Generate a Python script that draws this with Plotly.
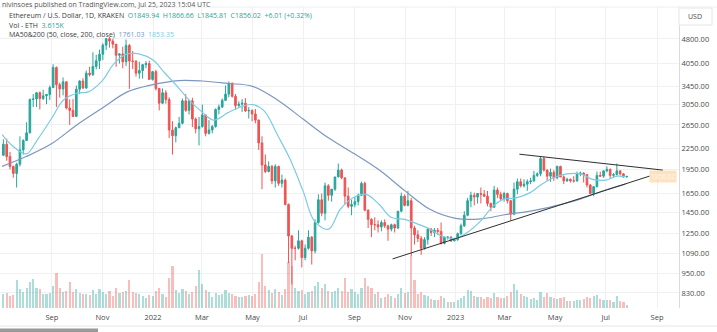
import math
import pandas as pd
import plotly.graph_objects as go

# ETH/USD (Kraken) candles, 4-day periods ending 2023-07-25
opens = [
    2150, 2320, 2130, 1990, 1895, 2020, 2230, 2380,
    2510, 3160, 3170, 3310, 3180, 3240, 3270,
    3430, 3940, 3500, 3400, 3570, 2980, 2930, 2810,
    3390, 3590, 3420, 3790, 3750, 3970, 4130, 4320,
    4600, 4810, 4730, 4630, 4290, 4330, 4100,
    4590, 4120, 4110, 3790, 3860, 4020, 4050, 3630,
    3830, 3410, 3080, 3310, 3160, 2560, 2460, 2600,
    2680, 3130, 2930, 3130, 2760, 2580, 2620,
    2840, 2500, 2560, 2620, 2950, 3000, 3140,
    3280, 3520, 3230, 3030, 3060, 3080, 2920, 2930,
    2860, 2740, 2340, 2010, 1920, 1990, 1800, 1990,
    1770, 1810, 1530, 1230, 1130, 1130, 1190,
    1060, 1130, 1220, 1110, 1350, 1580, 1440, 1740,
    1630, 1700, 1850, 1940, 1840, 1620, 1510, 1530,
    1560, 1630, 1770, 1470, 1380, 1330, 1330,
    1310, 1350, 1320, 1290, 1330, 1300, 1460, 1620,
    1520, 1570, 1300, 1240, 1210, 1130, 1200,
    1290, 1260, 1280, 1270, 1170, 1220, 1220, 1190,
    1200, 1250, 1320, 1420, 1570, 1630, 1610, 1650,
    1640, 1620, 1540, 1500, 1690, 1640, 1590,
    1650, 1570, 1430, 1700, 1790, 1740, 1760, 1790,
    1800, 1870, 1890, 2100, 1940, 1860, 1910,
    1840, 1990, 1850, 1800, 1820, 1800, 1800, 1890,
    1900, 1880, 1750, 1650, 1730, 1870, 1860,
    1930, 1950, 1870, 1880, 1930, 1890, 1849.94,
]
highs = [
    2400, 2410, 2200, 2000, 2040, 2450, 2400, 2700,
    3180, 3280, 3330, 3340, 3380, 3280, 3480,
    4030, 3970, 3550, 3680, 3580, 3160, 3170, 3480,
    3610, 3660, 3860, 3960, 4380, 4300, 4460, 4660,
    4830, 4870, 4800, 4630, 4350, 4550, 4780,
    4640, 4420, 4150, 4100, 4040, 4120, 4130, 3850,
    3880, 3420, 3410, 3370, 3210, 2720, 2620, 2800,
    3180, 3280, 3150, 3200, 2790, 2800, 3050,
    2850, 2740, 2650, 2970, 3050, 3180, 3480,
    3580, 3560, 3280, 3120, 3170, 3190, 3000, 2950,
    2960, 2750, 2450, 2160, 2060, 2010, 2020, 2000,
    1880, 1830, 1540, 1240, 1150, 1280, 1200,
    1160, 1280, 1230, 1380, 1640, 1650, 1780, 1760,
    1700, 1850, 2030, 1960, 1840, 1720, 1580, 1610,
    1650, 1790, 1790, 1480, 1390, 1400, 1370,
    1370, 1380, 1330, 1340, 1340, 1460, 1660, 1640,
    1680, 1600, 1320, 1280, 1230, 1220, 1300,
    1300, 1300, 1300, 1350, 1220, 1230, 1230, 1210,
    1260, 1340, 1460, 1600, 1670, 1660, 1650, 1720,
    1690, 1680, 1550, 1740, 1720, 1670, 1670,
    1660, 1580, 1780, 1830, 1830, 1820, 1820, 1840,
    1930, 1910, 2140, 2130, 1950, 1960, 1940,
    2000, 2000, 1870, 1840, 1830, 1860, 1920, 1920,
    1910, 1890, 1760, 1740, 1920, 1920, 1930,
    1990, 1960, 1900, 2030, 1930, 1900, 1866.66,
]
lows = [
    2140, 2070, 1950, 1840, 1720, 1990, 2160, 2370,
    2500, 3000, 3000, 2950, 3150, 3060, 3150,
    3420, 3000, 3200, 3250, 2950, 2650, 2800, 2800,
    3280, 3400, 3400, 3700, 3720, 3890, 3900, 4150,
    4450, 4520, 4500, 3960, 4050, 3920, 3980,
    3400, 3900, 3700, 3650, 3650, 3920, 3620, 3600,
    3360, 2930, 3060, 3070, 2420, 2160, 2350, 2590,
    2660, 2900, 2850, 2610, 2500, 2300, 2600,
    2450, 2480, 2500, 2600, 2850, 2980, 3140,
    3210, 3200, 2950, 2980, 2900, 2900, 2770, 2720,
    2680, 2230, 1700, 1900, 1910, 1760, 1720, 1740,
    1720, 1520, 1020, 880, 1040, 1120, 990,
    1040, 1120, 1010, 1090, 1340, 1410, 1370, 1570,
    1560, 1680, 1850, 1820, 1530, 1490, 1420, 1500,
    1520, 1620, 1460, 1300, 1220, 1280, 1260,
    1270, 1300, 1190, 1270, 1260, 1290, 1450, 1510,
    1510, 1070, 1160, 1180, 1080, 1120, 1160,
    1230, 1220, 1240, 1160, 1160, 1200, 1180, 1185,
    1190, 1240, 1310, 1410, 1500, 1520, 1540, 1540,
    1610, 1510, 1460, 1500, 1600, 1570, 1560,
    1540, 1370, 1420, 1640, 1720, 1720, 1680, 1760,
    1790, 1850, 1860, 1920, 1800, 1790, 1800,
    1820, 1850, 1760, 1790, 1780, 1780, 1790, 1860,
    1780, 1720, 1640, 1620, 1720, 1860, 1840,
    1910, 1830, 1850, 1870, 1870, 1840, 1845.81,
]
closes = [
    2320, 2130, 1990, 1895, 2020, 2230, 2380, 2510,
    3160, 3170, 3310, 3180, 3240, 3270, 3430,
    3940, 3500, 3400, 3570, 2980, 2930, 2810, 3390,
    3590, 3420, 3790, 3750, 3970, 4130, 4320, 4600,
    4810, 4730, 4630, 4290, 4330, 4100, 4590,
    4120, 4110, 3790, 3860, 4020, 4050, 3630, 3830,
    3410, 3080, 3310, 3160, 2560, 2460, 2600, 2680,
    3130, 2930, 3130, 2760, 2580, 2620, 2840,
    2500, 2560, 2620, 2950, 3000, 3140, 3280,
    3520, 3230, 3030, 3060, 3080, 2920, 2930, 2860,
    2740, 2340, 2010, 1920, 1990, 1800, 1990, 1770,
    1810, 1530, 1230, 1130, 1130, 1190, 1060,
    1130, 1220, 1110, 1350, 1580, 1440, 1740, 1630,
    1700, 1850, 1940, 1840, 1620, 1510, 1530, 1560,
    1630, 1770, 1470, 1380, 1330, 1330, 1310,
    1350, 1320, 1290, 1330, 1300, 1460, 1620, 1520,
    1570, 1300, 1240, 1210, 1130, 1200, 1290,
    1260, 1280, 1270, 1170, 1220, 1220, 1190, 1200,
    1250, 1320, 1420, 1570, 1630, 1610, 1650, 1640,
    1620, 1540, 1500, 1690, 1640, 1590, 1650,
    1570, 1430, 1700, 1790, 1740, 1760, 1790, 1800,
    1870, 1890, 2100, 1940, 1860, 1910, 1840,
    1990, 1850, 1800, 1820, 1800, 1800, 1890, 1900,
    1880, 1750, 1650, 1730, 1870, 1860, 1930,
    1950, 1870, 1880, 1930, 1890, 1850, 1856.02,
]
# average daily volume per period, thousand ETH
volumes = [
    70, 75, 60, 65, 140, 95, 80, 100,
    130, 145, 100, 95, 70, 70, 75,
    110, 175, 100, 80, 85, 130, 80, 95,
    75, 70, 70, 65, 90, 70, 95, 80,
    70, 85, 60, 100, 75, 80, 85,
    140, 80, 75, 70, 60, 50, 65, 60,
    85, 100, 70, 55, 150, 210, 90, 75,
    95, 85, 70, 80, 110, 190, 120,
    90, 80, 55, 75, 65, 70, 90,
    75, 70, 60, 55, 55, 60, 65, 60,
    70, 130, 270, 110, 90, 75, 95, 80,
    65, 95, 230, 210, 100, 85, 90,
    70, 80, 85, 110, 130, 100, 120, 85,
    80, 85, 100, 85, 150, 80, 95, 80,
    70, 100, 150, 110, 100, 70, 80,
    50, 55, 70, 60, 50, 70, 100, 75,
    80, 260, 140, 70, 80, 65, 60,
    45, 40, 40, 60, 50, 30, 30, 30,
    40, 50, 60, 90, 85, 60, 55, 55,
    45, 55, 50, 75, 55, 50, 50,
    60, 80, 120, 90, 70, 60, 55, 45,
    50, 40, 80, 55, 75, 55, 50,
    45, 50, 55, 35, 35, 35, 40, 40,
    45, 55, 50, 60, 65, 45, 40,
    40, 40, 30, 60, 35, 30, 15,
]

# moving averages of the daily close
ma50_dates = [
    "2021-07-03", "2021-07-15", "2021-08-01", "2021-08-15", "2021-09-01", "2021-09-15",
    "2021-10-01", "2021-10-15", "2021-11-01", "2021-11-15", "2021-12-01", "2021-12-15",
    "2022-01-01", "2022-01-15", "2022-02-01", "2022-02-15", "2022-03-01", "2022-03-15",
    "2022-04-01", "2022-04-15", "2022-05-01", "2022-05-15", "2022-06-01", "2022-06-15",
    "2022-07-01", "2022-07-15", "2022-08-01", "2022-08-15", "2022-09-01", "2022-09-15",
    "2022-10-01", "2022-10-15", "2022-11-01", "2022-11-15", "2022-12-01", "2022-12-15",
    "2023-01-01", "2023-01-15", "2023-02-01", "2023-02-15", "2023-03-01", "2023-03-15",
    "2023-04-01", "2023-04-15", "2023-05-01", "2023-05-15", "2023-06-01", "2023-06-15",
    "2023-07-01", "2023-07-15", "2023-07-25",
]
ma50_values = [
    2480, 2300, 2170, 2400, 2780, 3150,
    3300, 3330, 3600, 4050, 4330, 4330,
    4150, 3800, 3420, 3120, 2900, 2740,
    2880, 2990, 3050, 2920, 2450, 2100,
    1680, 1360, 1290, 1480, 1610, 1640,
    1530, 1400, 1380, 1340, 1290, 1230,
    1210, 1260, 1370, 1510, 1590, 1600,
    1660, 1760, 1850, 1890, 1890, 1820,
    1810, 1860, 1853.35,
]
ma200_dates = [
    "2021-07-03", "2021-08-01", "2021-09-01", "2021-10-01", "2021-11-01", "2021-12-01",
    "2022-01-01", "2022-02-01", "2022-03-01", "2022-04-01", "2022-05-01", "2022-06-01",
    "2022-07-01", "2022-08-01", "2022-09-01", "2022-10-01", "2022-11-01", "2022-12-01",
    "2023-01-01", "2023-02-01", "2023-03-01", "2023-04-01", "2023-05-01", "2023-06-01",
    "2023-07-01", "2023-07-25",
]
ma200_values = [
    1990, 2130, 2330, 2650, 2980, 3330,
    3500, 3600, 3590, 3530, 3460, 3140,
    2760, 2420, 2170, 1940, 1680, 1480,
    1390, 1385, 1425, 1460, 1515, 1590,
    1690, 1761.03,
]

# drawn trendlines (triangle)
upper_line_dates = ["2023-03-19", "2023-09-08"]
upper_line_prices = [2165, 1940]
lower_line_dates = ["2022-10-17", "2023-08-23"]
lower_line_prices = [1050, 1861]

# axis ticks
price_ticks = [4800, 4050, 3450, 3050, 2650, 2250, 1950, 1650, 1450, 1250, 1090, 950, 830]
price_tick_labels = [f"{p:.2f}" for p in price_ticks]
time_ticks = ["2021-09-01", "2021-11-01", "2022-01-01", "2022-03-01", "2022-05-01", "2022-07-01",
              "2022-09-01", "2022-11-01", "2023-01-01", "2023-03-01", "2023-05-01", "2023-07-01",
              "2023-09-01"]
time_tick_labels = ["Sep", "Nov", "2022", "Mar", "May", "Jul", "Sep", "Nov", "2023", "Mar", "May",
                    "Jul", "Sep"]

UP = "#26a69a"
DOWN = "#ef5350"
UP_VOL = "rgba(38,166,154,0.38)"
DOWN_VOL = "rgba(239,83,80,0.38)"
MA50_COLOR = "#7dcbe3"
MA200_COLOR = "#7d97bd"
GRID = "#eef0f4"
TEXT = "#4a4a4a"
FONT = "Open Sans"

starts = pd.date_range(end="2023-07-25", periods=len(closes), freq="4D")
centers = starts + pd.Timedelta(hours=36)
vol_colors = [UP_VOL if c >= o else DOWN_VOL for o, c in zip(opens, closes)]

fig = go.Figure()

fig.add_trace(go.Bar(
    x=centers, y=volumes, marker=dict(color=vol_colors, line=dict(width=0)),
    width=2.6 * 86400000, yaxis="y", hoverinfo="skip",
))
fig.add_trace(go.Candlestick(
    x=centers, open=opens, high=highs, low=lows, close=closes,
    increasing=dict(line=dict(color=UP, width=1), fillcolor=UP),
    decreasing=dict(line=dict(color=DOWN, width=1), fillcolor=DOWN),
    whiskerwidth=0, yaxis="y2", hoverinfo="skip",
))
fig.add_trace(go.Scatter(
    x=ma200_dates, y=ma200_values, mode="lines", yaxis="y2",
    line=dict(color=MA200_COLOR, width=1.2, shape="spline", smoothing=1.0), hoverinfo="skip",
))
fig.add_trace(go.Scatter(
    x=ma50_dates, y=ma50_values, mode="lines", yaxis="y2",
    line=dict(color=MA50_COLOR, width=1.2, shape="spline", smoothing=1.0), hoverinfo="skip",
))
for d, p in ((upper_line_dates, upper_line_prices), (lower_line_dates, lower_line_prices)):
    fig.add_trace(go.Scatter(
        x=d, y=p, mode="lines", yaxis="y2",
        line=dict(color="#2f2f2f", width=1), hoverinfo="skip",
    ))

PLOT_H = 332 - 7 - 24
PLOT_W = 717 - 38


def py(px):
    """paper y for a pixel row of the page"""
    return 1 - (px - 7) / PLOT_H


def px_x(px):
    return px / PLOT_W


fig.update_layout(
    width=717, height=332,
    margin=dict(l=0, r=38, t=7, b=24),
    paper_bgcolor="white", plot_bgcolor="white",
    showlegend=False, hovermode=False,
    font=dict(family=FONT, size=7.5, color=TEXT),
    xaxis=dict(
        type="date", range=["2021-06-30 10:30", "2023-09-27 12:00"],
        tickvals=time_ticks, ticktext=time_tick_labels,
        showgrid=True, gridcolor=GRID, gridwidth=1, zeroline=False, showline=False,
        ticks="outside", ticklen=2, tickcolor="rgba(0,0,0,0)",
        rangeslider=dict(visible=False), tickfont=dict(size=7.5, color=TEXT),
    ),
    yaxis=dict(range=[0, 1500], visible=False, showgrid=False, fixedrange=True),
    yaxis2=dict(
        type="log", overlaying="y", side="right",
        range=[2.8739, 3.7772],
        tickvals=price_ticks, ticktext=price_tick_labels,
        showgrid=True, gridcolor=GRID, gridwidth=1, zeroline=False,
        showline=True, linecolor="#d9dbe0", linewidth=1, ticks="",
        tickfont=dict(size=7.5, color=TEXT),
    ),
    bargap=0,
)

dark = "#3c3c3c"
fig.add_annotation(
    xref="paper", yref="paper", x=0, y=py(4.8), xanchor="left", yanchor="middle",
    text="nivinsoes published on TradingView.com, Jul 25, 2023 15:04 UTC",
    showarrow=False, font=dict(size=7, color="#555"),
)
fig.add_annotation(
    xref="paper", yref="paper", x=px_x(7), y=py(16), xanchor="left", yanchor="middle",
    text=(f"<span style='color:{dark}'>Ethereum / U.S. Dollar, 1D, KRAKEN</span>  "
          f"<span style='color:{UP}'>O1849.94  H1866.66  L1845.81  C1856.02  +6.01 (+0.32%)</span>"),
    showarrow=False, font=dict(size=7),
)
fig.add_annotation(
    xref="paper", yref="paper", x=px_x(7), y=py(25.5), xanchor="left", yanchor="middle",
    text=f"<span style='color:{dark}'>Vol - ETH</span>  <span style='color:{UP}'>3.615K</span>",
    showarrow=False, font=dict(size=7),
)
fig.add_annotation(
    xref="paper", yref="paper", x=px_x(7), y=py(35), xanchor="left", yanchor="middle",
    text=(f"<span style='color:{dark}'>MA50&amp;200 (50, close, 200, close)</span>  "
          f"<span style='color:{MA200_COLOR}'>1761.03</span>  "
          f"<span style='color:{MA50_COLOR}'>1853.35</span>"),
    showarrow=False, font=dict(size=7),
)
# currency box above the price scale
fig.add_shape(type="rect", xref="paper", yref="paper",
              x0=px_x(679), x1=px_x(712), y0=py(25), y1=py(8),
              line=dict(color="#e3e5ea", width=1), fillcolor="white")
fig.add_annotation(
    xref="paper", yref="paper", x=px_x(695), y=py(16.5), xanchor="center", yanchor="middle",
    text="USD", showarrow=False, font=dict(size=7, color=TEXT),
)
# last price tag
fig.add_annotation(
    xref="paper", yref="y2", x=px_x(677), y=math.log10(closes[-1]),
    xanchor="right", yanchor="middle", text=f"{closes[-1]:.2f}", showarrow=False,
    font=dict(size=6.5, color="rgba(255,255,255,0.85)"),
    bgcolor="rgba(255,190,110,0.45)", borderpad=1,
)
# frame lines
fig.add_shape(type="line", xref="paper", yref="paper", x0=0, x1=px_x(717), y0=py(7), y1=py(7),
              line=dict(color="#eceef2", width=1))
fig.add_shape(type="line", xref="paper", yref="paper", x0=0, x1=px_x(717), y0=py(326), y1=py(326),
              line=dict(color="#e3e5ea", width=1))
fig.add_shape(type="rect", xref="paper", yref="paper", x0=0, x1=px_x(98), y0=py(332), y1=py(328.5),
              line=dict(width=0), fillcolor="#9a9a9a")

fig.write_html("out.html")
